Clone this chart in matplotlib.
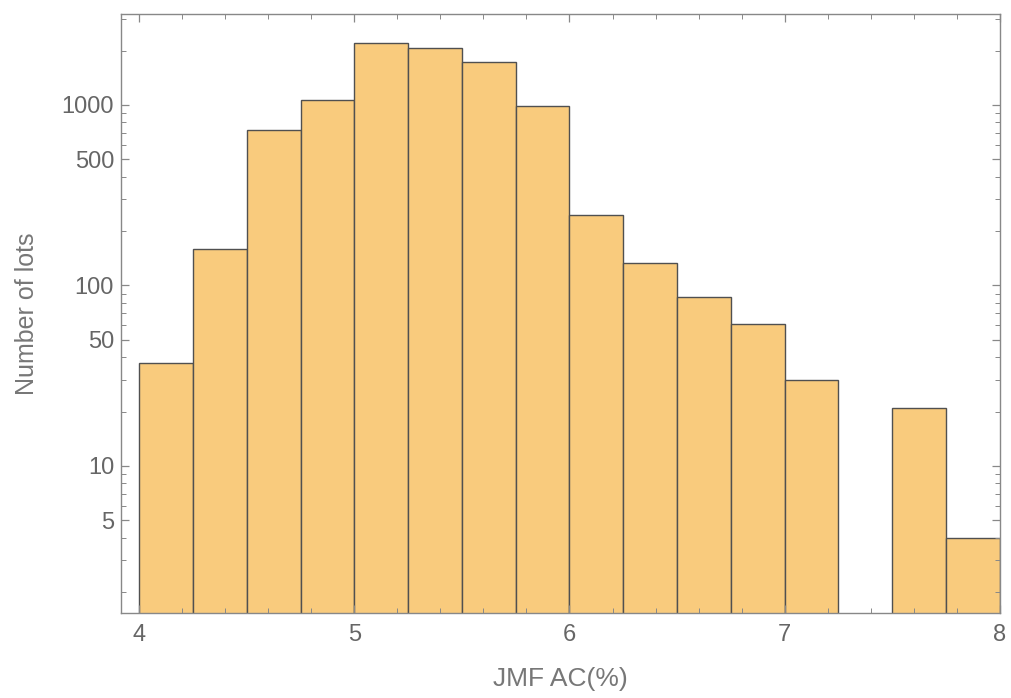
import matplotlib
matplotlib.use('Agg')
import matplotlib.pyplot as plt
import matplotlib.ticker as mticker
import numpy as np

# bin edges (JMF AC %) and counts
bin_edges = [4.0, 4.25, 4.5, 4.75, 5.0, 5.25, 5.5, 5.75, 6.0,
             6.25, 6.5, 6.75, 7.0, 7.25, 7.5, 7.75, 8.0]
counts = [37, 159, 726, 1066, 2203, 2070, 1730, 987,
          246, 133, 86, 61, 30, 0, 21, 4]

plt.rcParams['font.family'] = ['Liberation Sans', 'DejaVu Sans']

fig = plt.figure(figsize=(10.12, 6.98), dpi=100)
ax = fig.add_axes([0.1196, 0.1218, 0.988 - 0.1196, 0.98 - 0.1218])

edges = np.array(bin_edges)
widths = np.diff(edges)
for left, w, c in zip(edges[:-1], widths, counts):
    if c > 0:
        ax.bar(left, c, width=w, align='edge', color='#F9CB7D',
               edgecolor='#505050', linewidth=1.0, bottom=1e-3)

ax.set_yscale('log')
ax.set_xlim(3.916, 8.0)
ax.set_ylim(1.53, 3190)

ax.xaxis.set_major_locator(mticker.FixedLocator([4, 5, 6, 7, 8]))
ax.xaxis.set_minor_locator(mticker.MultipleLocator(0.2))
ax.xaxis.set_major_formatter(mticker.FormatStrFormatter('%d'))

ax.yaxis.set_major_locator(mticker.FixedLocator([5, 10, 50, 100, 500, 1000]))
ax.yaxis.set_minor_locator(mticker.LogLocator(base=10, subs=[2, 3, 4, 6, 7, 8, 9]))
ax.yaxis.set_major_formatter(mticker.FormatStrFormatter('%d'))
ax.yaxis.set_minor_formatter(mticker.NullFormatter())

axis_col = '#888888'
for s in ax.spines.values():
    s.set_color(axis_col)
    s.set_linewidth(1.0)

ax.tick_params(which='both', direction='in', top=True, right=True,
               color=axis_col, labelcolor='#666666', labelsize=17)
ax.tick_params(which='major', length=6, width=0.9)
ax.tick_params(which='minor', length=3.5, width=0.7)
ax.tick_params(axis='x', which='major', pad=8)
ax.tick_params(axis='y', which='major', pad=5)

ax.set_xlabel('JMF AC(%)', color='#777777', fontsize=19, labelpad=15)
ax.set_ylabel('Number of lots', color='#777777', fontsize=18, labelpad=16)

fig.savefig('out.png', dpi=100)
